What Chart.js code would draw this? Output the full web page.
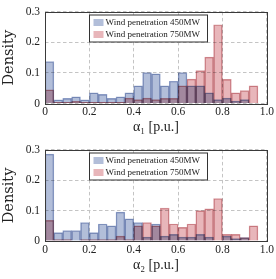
<!DOCTYPE html>
<html><head><meta charset="utf-8">
<script src="https://cdn.jsdelivr.net/npm/chart.js@4.4.1/dist/chart.umd.min.js"></script>
<style>html,body{margin:0;padding:0;background:#fff;overflow:hidden;}canvas{display:block;}</style>
</head><body>
<canvas id="c1" width="276" height="138"></canvas>
<canvas id="c2" width="276" height="141"></canvas>
<script>
// bin centres (bin width 0.04)
const binCenters = [0.02,0.06,0.10,0.14,0.18,0.22,0.26,0.30,0.34,0.38,0.42,0.46,0.50,0.54,0.58,0.62,0.66,0.70,0.74,0.78,0.82,0.86,0.90,0.94,0.98];
const seriesLabels = ['Wind penetration 450MW','Wind penetration 750MW'];
// alpha_1 densities
const alpha1_450 = [0.137,0.012,0.017,0.022,0.012,0.035,0.030,0.017,0.022,0.035,0.058,0.101,0.097,0.058,0.073,0.101,0.058,0.058,0.035,0.013,0.018,0.008,0.013,0,0];
const alpha1_750 = [0.045,0.004,0.004,0.007,0.004,0.004,0.004,0.004,0.004,0.018,0.013,0.018,0.013,0.017,0.017,0.058,0.080,0.108,0.152,0.258,0.079,0.035,0.042,0.058,0];
// alpha_2 densities
const alpha2_450 = [0.286,0.028,0.034,0.034,0.061,0.028,0.056,0.050,0.095,0.073,0.061,0.013,0.056,0.016,0.022,0.013,0.013,0.022,0.013,0,0.016,0.008,0.011,0,0];
const alpha2_750 = [0.068,0.005,0.005,0,0.005,0.005,0.005,0.005,0.016,0.005,0.050,0.061,0.050,0.108,0.056,0.045,0.056,0.100,0.106,0.140,0.022,0.022,0.011,0.050,0];
const xTicks = [0,0.2,0.4,0.6,0.8,1];
const yTicks = [0,0.1,0.2,0.3];
const xTitles = ['\u03b1\u2081 [p.u.]','\u03b1\u2082 [p.u.]'];

const fills = ['rgb(178,190,217)','rgb(232,182,186)'];
const edges = ['rgb(150,166,204)','rgb(214,150,156)'];

const multiplyPlugin = {
  id:'multiply',
  beforeDatasetsDraw(chart){ chart.ctx.save(); chart.ctx.globalCompositeOperation = 'multiply'; },
  afterDatasetsDraw(chart){ chart.ctx.restore(); }
};

const framePlugin = {
  id:'frameLegend',
  afterDraw(chart){
    const ctx = chart.ctx, a = chart.chartArea;
    ctx.save();
    ctx.globalCompositeOperation = 'source-over';
    ctx.strokeStyle = '#3a3a3a'; ctx.lineWidth = 1; ctx.setLineDash([]);
    const L = Math.round(a.left)+0.5, T = Math.round(a.top)+0.5;
    const W = Math.round(a.right)-Math.round(a.left), H = Math.round(a.bottom)-Math.round(a.top);
    ctx.strokeRect(L, T, W, H);
    // legend
    const bx = L+44, by = T+2.5, bw = 118, bh = 27;
    ctx.fillStyle = '#fff'; ctx.fillRect(bx, by, bw, bh);
    ctx.strokeStyle = '#333'; ctx.strokeRect(bx, by, bw, bh);
    ctx.font = '9px "Liberation Serif"'; ctx.textBaseline = 'middle'; ctx.textAlign = 'left';
    chart.data.datasets.forEach((ds, i) => {
      const yy = by + 7.5 + i*12;
      ctx.fillStyle = ds.backgroundColor; ctx.fillRect(bx+4, yy-3.5, 10, 7);
      ctx.fillStyle = '#222'; ctx.fillText(ds.label, bx+16, yy+0.5);
    });
    ctx.restore();
  }
};

function makeChart(id, d450, d750, title, padBottom){
  const tickFont = {family:'"Liberation Serif"', size:11.5};
  return new Chart(document.getElementById(id), {
    type:'bar',
    data:{datasets:[
      {label:seriesLabels[0], data:binCenters.map((x,i)=>({x:x,y:d450[i]})), backgroundColor:fills[0], borderColor:edges[0], borderWidth:0.8, order:2, grouped:false, barPercentage:1, categoryPercentage:1},
      {label:seriesLabels[1], data:binCenters.map((x,i)=>({x:x,y:d750[i]})), backgroundColor:fills[1], borderColor:edges[1], borderWidth:0.8, order:1, grouped:false, barPercentage:1, categoryPercentage:1}
    ]},
    options:{
      responsive:false, animation:false, devicePixelRatio:1,
      layout:{padding:{left:0,right:8,top:7,bottom:padBottom}},
      plugins:{legend:{display:false}, tooltip:{enabled:false}},
      scales:{
        x:{type:'linear', min:0, max:1, offset:false,
          grid:{offset:false, color:'#c4c4c4', drawTicks:false, lineWidth:1, borderDash:[3.5,2.5]},
          border:{display:false, dash:[3.5,2.5]},
          ticks:{font:tickFont, color:'#222', padding:2, maxRotation:0},
          title:{display:true, text:title, font:{family:'"Liberation Serif"', size:14}, color:'#222', padding:{top:0,bottom:2}},
          afterBuildTicks(s){ s.ticks = xTicks.map(v=>({value:v})); },
          afterFit(s){ s.height = 34.5; }
        },
        y:{min:0, max:0.3,
          grid:{color:'#c4c4c4', drawTicks:false, lineWidth:1, borderDash:[3.5,2.5]},
          border:{display:false, dash:[3.5,2.5]},
          ticks:{font:tickFont, color:'#222', padding:5},
          title:{display:true, text:'Density', font:{family:'"DejaVu Serif"', size:14.5}, color:'#222', padding:{top:1,bottom:0}},
          afterBuildTicks(s){ s.ticks = yTicks.map(v=>({value:v})); },
          afterFit(s){ s.width = 45; }
        }
      }
    },
    plugins:[multiplyPlugin, framePlugin]
  });
}
makeChart('c1', alpha1_450, alpha1_750, xTitles[0], 0);
makeChart('c2', alpha2_450, alpha2_750, xTitles[1], 3.5);
</script>
</body></html>
